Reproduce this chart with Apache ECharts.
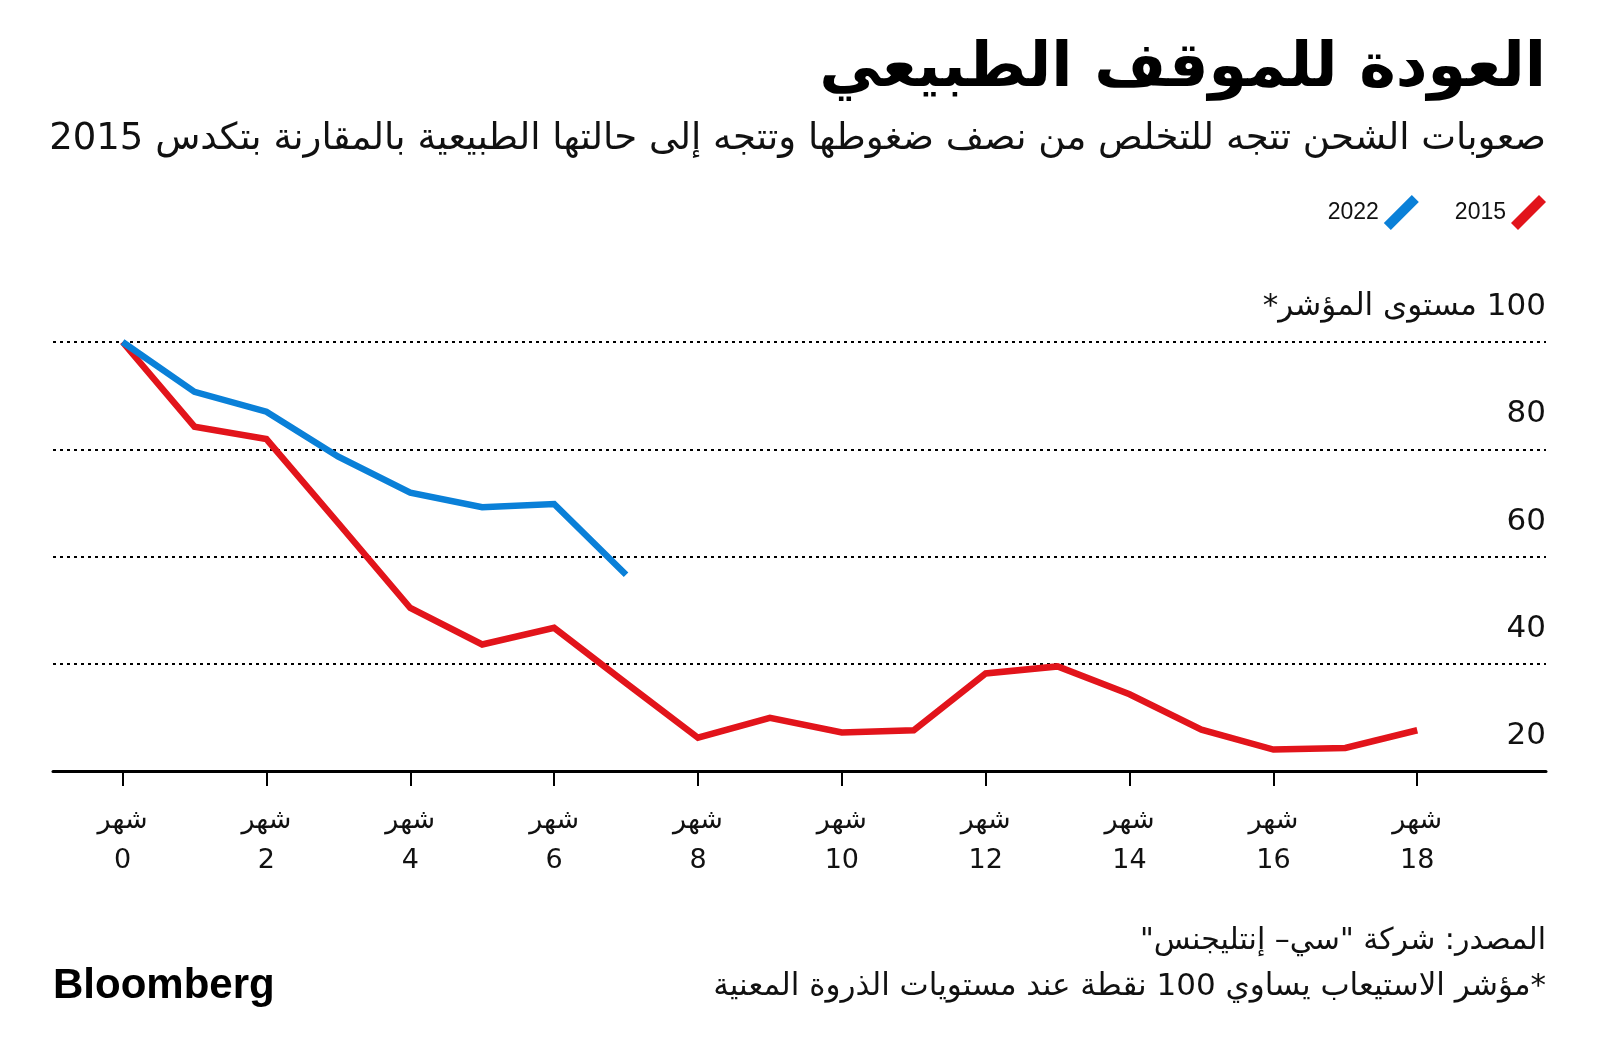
<!DOCTYPE html>
<html>
<head>
<meta charset="utf-8">
<script src="https://cdn.jsdelivr.net/npm/echarts@6/dist/echarts.min.js"></script>
<style>
html,body{margin:0;padding:0;background:#fff;}
#chart{width:1600px;height:1062px;direction:rtl;}
</style>
</head>
<body>
<div id="chart"></div>
<script>
const months = [0,1,2,3,4,5,6,7,8,9,10,11,12,13,14,15,16,17,18];
const values2015 = [100, 84.2, 81.9, 66.2, 50.4, 43.6, 46.7, 36.4, 26.2, 29.9, 27.2, 27.6, 38.2, 39.5, 34.3, 27.7, 24.0, 24.3, 27.6];
const values2022 = [100, 90.7, 87.0, 78.6, 71.9, 69.2, 69.8, 56.6];
const xTickValues = [0,2,4,6,8,10,12,14,16,18];
const monthWord = 'شهر';
const yTopLabel = '100 مستوى المؤشر*';
const titleText = 'العودة للموقف الطبيعي';
const subtitleText = 'صعوبات الشحن تتجه للتخلص من نصف ضغوطها وتتجه إلى حالتها الطبيعية بالمقارنة بتكدس 2015';
const sourceText = 'المصدر: شركة "سي– إنتليجنس"';
const noteText = '*مؤشر الاستيعاب يساوي 100 نقطة عند مستويات الذروة المعنية';
const seriesNames = ['2015', '2022'];

const AR = "'DejaVu Sans', sans-serif";
const red = '#e2141b';
const blue = '#0a80d8';
const legendIcon = 'path://M0,28 L28,0 L35,7 L7,35 Z';

const chart = echarts.init(document.getElementById('chart'), null, {renderer: 'canvas'});
chart.setOption({
  backgroundColor: '#ffffff',
  animation: false,
  grid: {left: 53, right: 54, top: 342, bottom: 291, containLabel: false},
  legend: {
    data: [seriesNames[1], seriesNames[0]],
    right: 49, top: 190,
    align: 'right',
    itemWidth: 35, itemHeight: 35,
    itemGap: 36,
    icon: legendIcon,
    textStyle: {fontFamily: "'Liberation Sans', Arial, sans-serif", fontSize: 23, color: '#111'}
  },
  xAxis: {
    type: 'value',
    min: -0.967, max: 19.79,
    axisLine: {show: true, lineStyle: {color: '#000', width: 3}},
    axisTick: {show: true, length: 15, lineStyle: {color: '#000', width: 2}, customValues: xTickValues},
    splitLine: {show: false},
    axisLabel: {
      customValues: xTickValues,
      margin: 30,
      fontFamily: AR, fontSize: 27, color: '#111', lineHeight: 40,
      formatter: v => monthWord + '\n' + v
    }
  },
  yAxis: {
    type: 'value',
    position: 'right',
    min: 20, max: 100, interval: 20,
    axisLine: {show: false},
    axisTick: {show: false},
    splitLine: {show: true, lineStyle: {color: '#000', width: 2, type: [3, 4]}},
    axisLabel: {
      inside: true, margin: 0,
      align: 'right', verticalAlign: 'bottom',
      lineHeight: 32, padding: [0, 0, 19, 0],
      fontFamily: AR, fontSize: 31, color: '#111',
      formatter: v => v === 100 ? yTopLabel : String(v)
    }
  },
  series: [
    {
      name: seriesNames[0], type: 'line',
      data: months.map((m, i) => [m, values2015[i]]),
      symbol: 'none', color: red,
      lineStyle: {color: red, width: 6.5, join: 'miter'}
    },
    {
      name: seriesNames[1], type: 'line',
      data: values2022.map((v, i) => [months[i], v]),
      symbol: 'none', color: blue,
      lineStyle: {color: blue, width: 6.5, join: 'miter'}
    }
  ],
  graphic: [
    {type: 'text', x: 1546, y: 70, style: {text: titleText, align: 'right', verticalAlign: 'middle', font: "bold 62px 'DejaVu Sans', sans-serif", fill: '#000'}},
    {type: 'text', x: 1546, y: 139, style: {text: subtitleText, align: 'right', verticalAlign: 'middle', font: "37px 'DejaVu Sans', sans-serif", fill: '#111'}},
    {type: 'text', x: 1546, y: 941, style: {text: sourceText, align: 'right', verticalAlign: 'middle', font: "30px 'DejaVu Sans', sans-serif", fill: '#111'}},
    {type: 'text', x: 1546, y: 987, style: {text: noteText, align: 'right', verticalAlign: 'middle', font: "31px 'DejaVu Sans', sans-serif", fill: '#111'}},
    {type: 'text', x: 53, y: 986, style: {text: 'Bloomberg', align: 'left', verticalAlign: 'middle', font: "bold 42px 'Liberation Sans', Arial, sans-serif", fill: '#000'}}
  ]
});
</script>
</body>
</html>
